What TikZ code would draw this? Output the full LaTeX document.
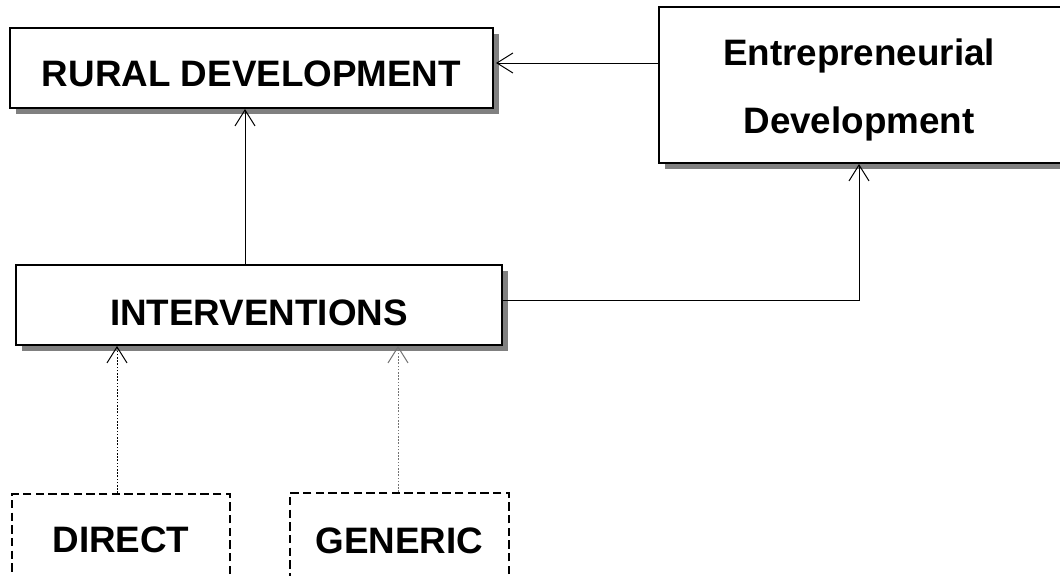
\documentclass[tikz,border=0pt]{standalone}
\usepackage{fontspec}
\setmainfont{Liberation Sans}
\usetikzlibrary{arrows.meta,shadows,calc}
\begin{document}
\begin{tikzpicture}[x=0.75pt,y=-0.75pt,
  lbl/.style={font=\fontsize{27.6pt}{33pt}\selectfont\bfseries},
  box/.style={lbl, draw=black, line width=1.5pt, fill=white, rectangle, inner sep=0pt,
    drop shadow={shadow xshift=4.5pt, shadow yshift=-4.5pt, fill=black!50, opacity=1}},
  dbox/.style={lbl, draw=black, line width=1.5pt, dash pattern=on 6.2pt off 3.3pt, fill=white, rectangle, inner sep=0pt},
  conn/.style={line width=0.75pt, -{Straight Barb[length=12pt,width=15pt]}},
  dotconn/.style={conn, dash pattern=on 1.2pt off 1.2pt}
]
\useasboundingbox (0,0) rectangle (1060,575);
\clip (0,0) rectangle (1060,575);

\node[box, minimum width=362.25pt, minimum height=60pt, text height=27pt, text depth=0pt] (rur) at (251.5,68) {RURAL DEVELOPMENT};
\node[box, minimum width=364.5pt, minimum height=60pt, text height=30pt, text depth=0pt] (int) at (259,305) {INTERVENTIONS};
\node[box, minimum width=303pt, minimum height=117pt] (ent) at (861,85) {};
\node[lbl, anchor=base, inner sep=0pt] (ent1) at (859,65) {Entrepreneurial};
\node[lbl, anchor=base, inner sep=0pt] (ent2) at (859,133) {Development};
\node[dbox, minimum width=163.5pt, minimum height=67.5pt, text height=19.5pt, text depth=0pt] (dir) at (121,539) {DIRECT};
\node[dbox, minimum width=164.25pt, minimum height=67.5pt, text height=22.5pt, text depth=0pt] (gen) at (399.5,538) {GENERIC};

\draw[conn] ($(int.north)+(-14,0)$) -- ($(rur.south)+(-6.5,0)$);
\draw[conn] ($(ent.west)+(0,-22)$) -- ($(rur.east)+(2,-5)$);
\draw[conn] ($(int.east)+(0,-5)$) -| ($(ent.south)+(-2,0)$);
\draw[dotconn] ($(dir.north)+(-4,0)$) -- ($(int.south)+(-142,0)$);
\draw[dotconn, black!55] ($(gen.north)+(-1.5,0)$) -- ($(int.south)+(139,0)$);
\end{tikzpicture}
\end{document}
